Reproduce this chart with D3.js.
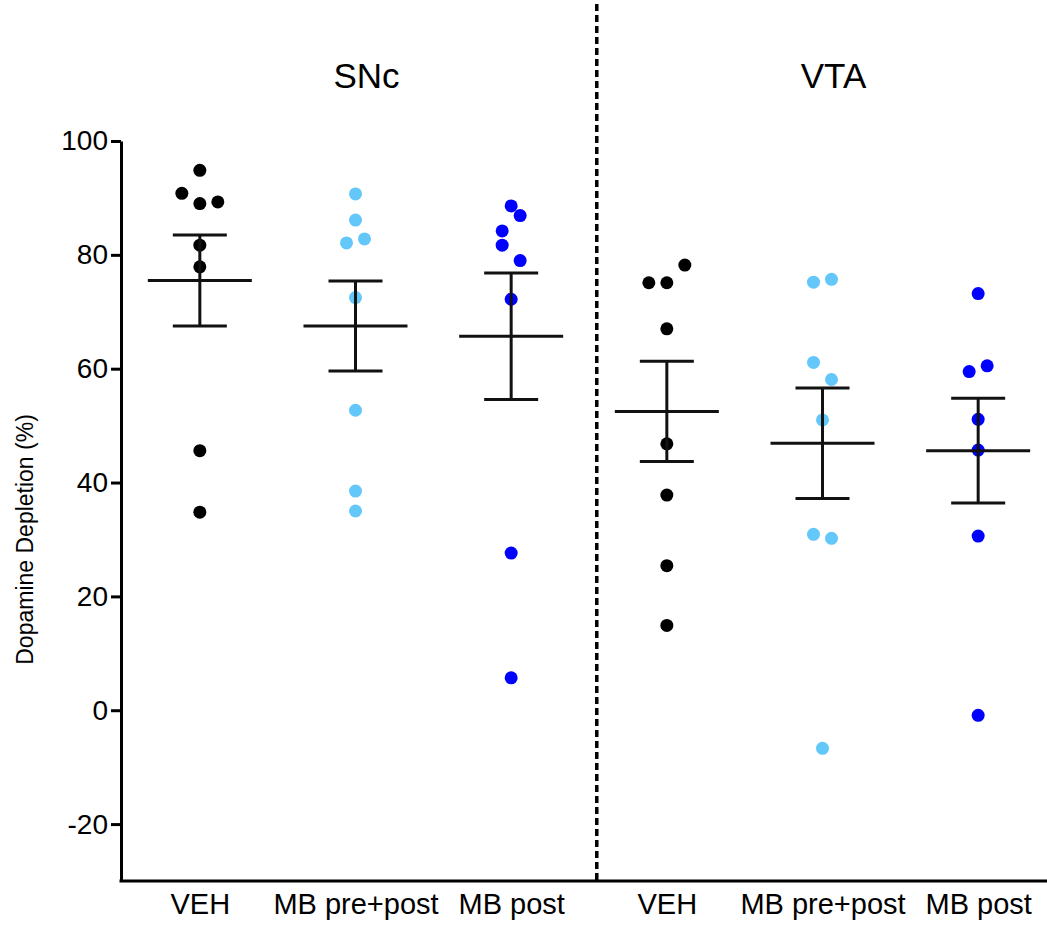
<!DOCTYPE html>
<html>
<head>
<meta charset="utf-8">
<script src="https://cdn.jsdelivr.net/npm/d3@7"></script>
<style>
body { margin: 0; background: #fff; }
text { font-family: "Liberation Sans", Arial, sans-serif; }
</style>
</head>
<body>
<svg></svg>
<script>
var width = 1047;
var height = 926;

// two regions, three treatments each
var regions = ["SNc", "VTA"];
var treatments = ["VEH", "MB pre+post", "MB post"];
var yTicks = [-20, 0, 20, 40, 60, 80, 100];

// individual animals (% depletion), order as listed
var snVeh = [94.85, 90.8, 89.0, 89.3, 81.7, 77.9, 45.6, 34.8];
var snPre = [90.7, 86.1, 82.1, 82.8, 72.5, 52.7, 38.5, 35.0];
var snPost = [88.6, 84.2, 86.9, 81.7, 79.0, 72.2, 27.6, 5.7];
var vtVeh = [75.1, 75.1, 78.2, 67.0, 46.8, 37.8, 25.4, 14.9];
var vtPre = [75.2, 75.7, 61.1, 58.1, 51.0, 30.9, 30.2, -6.7];
var vtPost = [73.2, 59.5, 60.5, 51.1, 45.7, 30.6, -0.9];

// mean +/- SEM
var meanVals = [75.5, 67.5, 65.7, 52.5, 46.9, 45.6];
var semVals = [8.0, 7.9, 11.1, 8.8, 9.7, 9.2];

var groupValues = [snVeh, snPre, snPost, vtVeh, vtPre, vtPost];
var dotColors = ["#000000", "#63c7fa", "#0000ff"];

var keys = [];
regions.forEach(function(r){
	treatments.forEach(function(t){ keys.push(r + "|" + t); });
});

var x = d3.scalePoint().domain(keys).range([122, 1056]).padding(0.5);
var y = d3.scaleLinear().domain([-30, 100]).range([881, 141]);

var svg = d3.select('svg')
	.attr("width", width)
	.attr("height", height);

// Prism-like scatter: values close together share a row and spread sideways
var rowGap = 3.3;
var spread = 18;
var layout = function(values){
	var order = d3.range(values.length).sort(function(a, b){ return values[a] - values[b] || a - b; });
	var rows = [];
	var current = null;
	order.forEach(function(i){
		if (current && values[i] - values[current[0]] < rowGap){
			current.push(i);
		} else {
			current = [i];
			rows.push(current);
		}
	});
	var offsets = [];
	rows.forEach(function(row){
		row.sort(function(a, b){ return a - b; });
		row.forEach(function(i, j){ offsets[i] = (j - (row.length - 1) / 2) * spread; });
	});
	return offsets;
};

var dots = [];
groupValues.forEach(function(values, g){
	var off = layout(values);
	values.forEach(function(v, i){
		dots.push({ key: keys[g], v: v, dx: off[i], color: dotColors[g % 3] });
	});
});

svg.append("g")
	.selectAll("circle")
	.data(dots)
	.enter()
	.append("circle")
	.attr("cx", function(d){ return x(d.key) + d.dx; })
	.attr("cy", function(d){ return y(d.v); })
	.attr("r", 6.5)
	.style("fill", function(d){ return d.color; });

// mean and SEM bars
var bars = keys.map(function(k, i){ return { key: k, m: meanVals[i], s: semVals[i] }; });
var eb = svg.append("g").style("stroke", "#111").style("stroke-width", 3);

eb.selectAll(".mean").data(bars).enter().append("line")
	.attr("x1", function(d){ return x(d.key) - 52; })
	.attr("x2", function(d){ return x(d.key) + 52; })
	.attr("y1", function(d){ return y(d.m); })
	.attr("y2", function(d){ return y(d.m); });
eb.selectAll(".stem").data(bars).enter().append("line")
	.attr("x1", function(d){ return x(d.key); })
	.attr("x2", function(d){ return x(d.key); })
	.attr("y1", function(d){ return y(d.m + d.s); })
	.attr("y2", function(d){ return y(d.m - d.s); });
eb.selectAll(".capTop").data(bars).enter().append("line")
	.attr("x1", function(d){ return x(d.key) - 27; })
	.attr("x2", function(d){ return x(d.key) + 27; })
	.attr("y1", function(d){ return y(d.m + d.s); })
	.attr("y2", function(d){ return y(d.m + d.s); });
eb.selectAll(".capBot").data(bars).enter().append("line")
	.attr("x1", function(d){ return x(d.key) - 27; })
	.attr("x2", function(d){ return x(d.key) + 27; })
	.attr("y1", function(d){ return y(d.m - d.s); })
	.attr("y2", function(d){ return y(d.m - d.s); });

// y axis
var yAxis = svg.append("g")
	.attr("transform", "translate(121,0)")
	.call(d3.axisLeft(y).tickValues(yTicks).tickSize(10).tickSizeOuter(0).tickPadding(3)
		.tickFormat(function(d){ return String(d); }));
yAxis.selectAll("path, line").style("stroke", "#000").style("stroke-width", 3);
yAxis.selectAll("text").style("font-size", "28px").style("fill", "#000");

// x axis
var xAxis = svg.append("g")
	.attr("transform", "translate(0,881)")
	.call(d3.axisBottom(x).tickSize(0).tickSizeOuter(0).tickPadding(12)
		.tickFormat(function(k){ return k.split("|")[1]; }));
xAxis.select(".domain").remove();
xAxis.selectAll("text").style("font-size", "29px").style("fill", "#000");

svg.append("line")
	.attr("x1", 119.5)
	.attr("x2", width)
	.attr("y1", y(-30))
	.attr("y2", y(-30))
	.style("stroke", "#000")
	.style("stroke-width", 3);

// divider between the two regions
var divX = x(keys[2]) + x.step() * 0.55;
svg.append("line")
	.attr("x1", divX)
	.attr("x2", divX)
	.attr("y1", 4)
	.attr("y2", y(-30))
	.style("stroke", "#000")
	.style("stroke-width", 3.5)
	.style("stroke-dasharray", "7,4");

// region titles
svg.selectAll(".title")
	.data(regions)
	.enter()
	.append("text")
	.attr("x", function(r){ return x(r + "|" + treatments[1]) + 11; })
	.attr("y", 88)
	.attr("text-anchor", "middle")
	.style("font-size", "35px")
	.text(function(r){ return r; });

svg.append("text")
	.attr("transform", "translate(33," + y(30) + ") rotate(-90)")
	.attr("text-anchor", "middle")
	.style("font-size", "23px")
	.text("Dopamine Depletion (%)");
</script>
</body>
</html>
